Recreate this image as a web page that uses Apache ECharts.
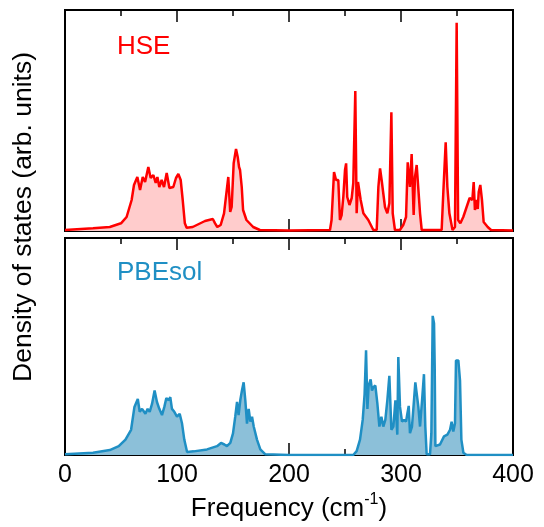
<!DOCTYPE html>
<html>
<head>
<meta charset="utf-8">
<script src="https://cdn.jsdelivr.net/npm/echarts@6/dist/echarts.min.js"></script>
<style>
html,body{margin:0;padding:0;background:#fff;}
#c{width:544px;height:527px;}
</style>
</head>
<body>
<div id="c"></div>
<script>
// ---- data (frequency in cm^-1, density of states in arbitrary units) ----
const hseFreq = [0,25,40,50,55,59.5,61.6,64.6,67,69.4,71.5,74.4,76.5,78.9,81,82.5,84.2,86.3,88.4,90.8,93.2,96.7,99.1,101.2,103.3,105.1,107,108.6,114,125,132,134,136,139,142,145.8,147.5,148.8,150.6,152.7,154.2,155.4,156.3,157.8,159,162,168,174,200,236.6,238,240.2,242,244,245.5,247,248.5,250,251,252,254,256,257.4,259.2,260.4,261.6,262.8,264,266.4,270.8,275.3,278.3,279.8,281.3,282.7,285.7,287.8,289.6,291.4,292.6,294.6,299,302,304.5,306,307.1,308,309.5,310.4,311.3,312.5,314,315.5,317,318.5,336.3,337.8,339.9,341.4,343.2,346,348.2,349.7,351,353,355.6,358,361.3,363.7,364.9,366,367.3,368.5,369.4,370.8,372.3,373.8,377.4,380.4,400];
const hseDos = [1,2.7,4,7.7,14,31,46,54,41,54,49,64,53,56,48,54,44,51,44,58,43,44,53,57,51,31,7.7,3.3,4,10,12,7.7,4,6,17.7,54,19,24,67.7,82,74,64,61,44,21,11,4,1,0.5,1,11,59,51,51,11,16,34,61,67.6,34,26,33,48,140,17.7,49,51,31,17.7,11,1,1,44,62.7,51,24,17.7,27.7,118.7,17.7,1,1,6,14,68.7,68.7,44,77,77,16,54,66,66,17.7,1,1,39,88.7,44,17.7,1,4,208.3,11,7.7,14,22,33,31,49,21,31,22,39,46,31,9,4,1,0.5];

const pbeFreq = [0,25,40,48,54,59,62,65,66.7,68.8,71.8,73.8,75.6,77.7,80,82.1,84.2,86.6,88.7,90.5,92.6,94,95.5,97.6,100,102.4,104.5,106.5,109,114.9,126.8,135.7,139.3,141,142.3,144.6,147.6,150,152,153.6,155,156.5,158,159.5,161,162.5,164,165.5,167,168.5,171.4,174.4,178.9,200,257.4,260.4,263.4,265.8,267.5,268.8,270,271.1,272.9,274.1,275.3,277.1,278.9,280.7,282.5,284.2,286,287.8,289.6,291.4,293.2,295,296.7,297.6,299.1,300.9,302.7,304.5,305.7,306.9,308,309.8,311.6,312.8,314,315.5,317,318.8,320.5,321.7,322.9,325.9,327.1,328.3,329.5,330.1,330.7,331.8,334.8,338.4,341.4,343.8,345.2,346.7,348.2,349.1,351.2,352.7,353.9,355.7,358.6,400];
const pbeDos = [0.7,2.3,5,9,15.7,25.7,49,57,44,47,42,47,44,52,65.7,54,47,40.7,49,58,55.7,59,47,44,39,42,32,15.7,3,3.7,5.7,9,12.3,14,10.7,9,12.3,22,39,54,40.7,55.7,65.7,74,55.7,32,47,34,39,29,15.7,5.7,0.7,0,0,4,15.7,35.7,62,106.7,47,70.7,77,65.7,69,70.7,52.3,29,39,29,35.7,55.7,80.7,25.7,29,55.7,20.7,99.7,49,34,35.7,34,42.3,50,22.3,29,55.7,74,75.7,49,29,55.7,82.3,29,0.7,0.7,22,141.7,134,89,9,7.3,10.7,19,20.7,25.7,34,24,32.3,96.3,96.3,75.7,15.7,2.3,0,0];

const xTicks = [0, 100, 200, 300, 400];
const panelLabels = ['HSE', 'PBEsol'];

// ---- chart ----
const FONT = '"Liberation Sans", Arial, sans-serif';
const pairs = (xs, ys) => xs.map((x, i) => [x, ys[i]]);

function xAxisDef(gridIndex, position, showLabels) {
  return {
    type: 'value', gridIndex, position,
    min: xTicks[0], max: xTicks[xTicks.length - 1], interval: xTicks[1] - xTicks[0],
    axisLine: { show: true, onZero: false, lineStyle: { color: '#000', width: 2 } },
    axisTick: { show: true, inside: true, length: 12, lineStyle: { color: '#000', width: 1.5 } },
    minorTick: { show: true, splitNumber: 2, length: 6, lineStyle: { color: '#000', width: 1.5 } },
    splitLine: { show: false }, minorSplitLine: { show: false },
    axisLabel: { show: showLabels, color: '#000', fontSize: 25, fontFamily: FONT, margin: 8 },
    name: showLabels ? 'Frequency (cm{sup|-1})' : '',
    nameLocation: 'middle', nameGap: 37,
    nameTextStyle: {
      color: '#000', fontSize: 26, fontFamily: FONT, lineHeight: 34,
      rich: { sup: { fontSize: 16, fontFamily: FONT, color: '#000', verticalAlign: 'top', lineHeight: 16 } }
    }
  };
}
function yAxisDef(gridIndex, maxV) {
  return {
    type: 'value', gridIndex, min: 0, max: maxV,
    axisLine: { show: true, lineStyle: { color: '#000', width: 2 } },
    axisTick: { show: false }, axisLabel: { show: false }, splitLine: { show: false }
  };
}

const chart = echarts.init(document.getElementById('c'), null, { renderer: 'canvas' });
chart.setOption({
  animation: false,
  backgroundColor: '#fff',
  grid: [
    { left: 65, width: 448, top: 10, height: 221, show: true, borderColor: '#000', borderWidth: 2, backgroundColor: 'transparent' },
    { left: 65, width: 448, top: 238, height: 221, show: true, borderColor: '#000', borderWidth: 2, backgroundColor: 'transparent' }
  ],
  xAxis: [
    xAxisDef(0, 'bottom', false),
    xAxisDef(0, 'top', false),
    xAxisDef(1, 'bottom', true),
    xAxisDef(1, 'top', false)
  ],
  yAxis: [yAxisDef(0, 221), yAxisDef(1, 221)],
  series: [
    {
      name: panelLabels[0], type: 'line', xAxisIndex: 0, yAxisIndex: 0,
      data: pairs(hseFreq, hseDos), symbol: 'none', smooth: false, z: 1,
      lineStyle: { color: '#ff0000', width: 2.5 },
      areaStyle: { color: '#ffcccc', opacity: 1 }
    },
    {
      name: panelLabels[1], type: 'line', xAxisIndex: 2, yAxisIndex: 1,
      data: pairs(pbeFreq, pbeDos), symbol: 'none', smooth: false, z: 1,
      lineStyle: { color: '#1f8fc4', width: 2.5 },
      areaStyle: { color: '#8cc0d9', opacity: 1 }
    }
  ],
  graphic: [
    { type: 'text', x: 117, y: 47, z: 10,
      style: { text: panelLabels[0], fill: '#ff0000', font: '26px ' + FONT, textAlign: 'left', textVerticalAlign: 'middle' } },
    { type: 'text', x: 117, y: 273, z: 10,
      style: { text: panelLabels[1], fill: '#1f8fc4', font: '26px ' + FONT, textAlign: 'left', textVerticalAlign: 'middle' } },
    { type: 'text', x: 24, y: 217, rotation: Math.PI / 2, z: 10,
      style: { text: 'Density of states (arb. units)', fill: '#000', font: '26.5px ' + FONT, textAlign: 'center', textVerticalAlign: 'middle' } }
  ]
});
</script>
</body>
</html>
